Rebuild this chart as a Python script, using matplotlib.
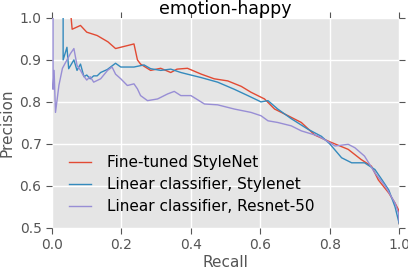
import matplotlib
matplotlib.use("Agg")
import matplotlib.pyplot as plt

# Precision/recall curves
finetuned_recall = [0.055, 0.055, 0.058, 0.082, 0.10, 0.13, 0.161, 0.183, 0.217, 0.236, 0.246, 0.255,
                    0.284, 0.313, 0.342, 0.36, 0.39, 0.43, 0.467, 0.506, 0.545, 0.573, 0.612, 0.641,
                    0.68, 0.718, 0.757, 0.80, 0.853, 0.89, 0.92, 0.94, 0.97, 0.988, 0.998, 1.0]
finetuned_prec = [1.0, 1.0, 0.973, 0.982, 0.966, 0.958, 0.943, 0.927, 0.934, 0.938, 0.90, 0.89,
                  0.875, 0.88, 0.87, 0.878, 0.88, 0.866, 0.855, 0.85, 0.837, 0.823, 0.807, 0.783,
                  0.767, 0.751, 0.721, 0.705, 0.687, 0.663, 0.647, 0.614, 0.583, 0.559, 0.543, 0.51]

linear_style_recall = [0.032, 0.032, 0.043, 0.048, 0.063, 0.072, 0.082, 0.092, 0.10, 0.11, 0.12, 0.13,
                       0.14, 0.159, 0.183, 0.198, 0.236, 0.265, 0.284, 0.313, 0.342, 0.371, 0.39,
                       0.429, 0.477, 0.525, 0.564, 0.602, 0.622, 0.65, 0.689, 0.737, 0.776, 0.80,
                       0.834, 0.863, 0.90, 0.93, 0.95, 0.97, 0.988, 1.0]
linear_style_prec = [1.0, 0.90, 0.93, 0.879, 0.90, 0.875, 0.89, 0.86, 0.864, 0.855, 0.862, 0.862,
                     0.87, 0.877, 0.892, 0.883, 0.883, 0.888, 0.879, 0.875, 0.878, 0.87, 0.866,
                     0.858, 0.847, 0.83, 0.815, 0.80, 0.803, 0.783, 0.76, 0.735, 0.718, 0.70,
                     0.667, 0.655, 0.655, 0.639, 0.615, 0.59, 0.55, 0.51]

linear_resnet_recall = [0.003, 0.003, 0.006, 0.01, 0.02, 0.03, 0.043, 0.053, 0.063, 0.072, 0.082, 0.09,
                        0.10, 0.11, 0.12, 0.14, 0.16, 0.173, 0.183, 0.198, 0.217, 0.236, 0.246, 0.255,
                        0.275, 0.304, 0.333, 0.352, 0.371, 0.40, 0.439, 0.477, 0.525, 0.573, 0.602,
                        0.622, 0.65, 0.689, 0.718, 0.766, 0.80, 0.815, 0.853, 0.872, 0.90, 0.93,
                        0.96, 0.988, 0.998, 1.0]
linear_resnet_prec = [1.0, 0.83, 0.875, 0.775, 0.84, 0.88, 0.90, 0.915, 0.927, 0.887, 0.875, 0.863,
                      0.852, 0.86, 0.847, 0.855, 0.875, 0.883, 0.866, 0.855, 0.839, 0.843, 0.831, 0.815,
                      0.803, 0.807, 0.819, 0.825, 0.815, 0.815, 0.795, 0.793, 0.783, 0.775, 0.767,
                      0.755, 0.751, 0.743, 0.731, 0.719, 0.703, 0.695, 0.699, 0.691, 0.671, 0.631,
                      0.599, 0.559, 0.535, 0.515]

plt.style.use("ggplot")
plt.rcParams["font.family"] = "DejaVu Sans"

fig = plt.figure(figsize=(4.08, 2.71), dpi=100)
ax = fig.add_axes([0.1275, 0.159, 0.851, 0.775])

ax.plot(finetuned_recall, finetuned_prec, color="#E24A33", lw=1.0, label="Fine-tuned StyleNet")
ax.plot(linear_style_recall, linear_style_prec, color="#348ABD", lw=1.0, label="Linear classifier, Stylenet")
ax.plot(linear_resnet_recall, linear_resnet_prec, color="#988ED5", lw=1.0, label="Linear classifier, Resnet-50")

ax.set_xlim(0, 1)
ax.set_ylim(0.5, 1.0)
ax.set_xticks([0.0, 0.2, 0.4, 0.6, 0.8, 1.0])
ax.set_yticks([0.5, 0.6, 0.7, 0.8, 0.9, 1.0])
ax.set_facecolor("#E5E5E5")
ax.grid(True, color="white", lw=1.0)
for s in ax.spines.values():
    s.set_visible(False)
ax.tick_params(direction="out", top=True, right=True, colors="#555555", labelsize=10, length=4)
ax.set_xlabel("Recall", fontsize=11, color="#555555", labelpad=2)
ax.set_ylabel("Precision", fontsize=11, color="#555555")
ax.set_title("emotion-happy", fontsize=12.5, pad=3)

ax.legend(loc="lower left", frameon=False, fontsize=11, bbox_to_anchor=(0.01, 0.0),
          handlelength=1.45, handletextpad=1.05, labelspacing=0.45)

fig.savefig("out.png", dpi=100)
